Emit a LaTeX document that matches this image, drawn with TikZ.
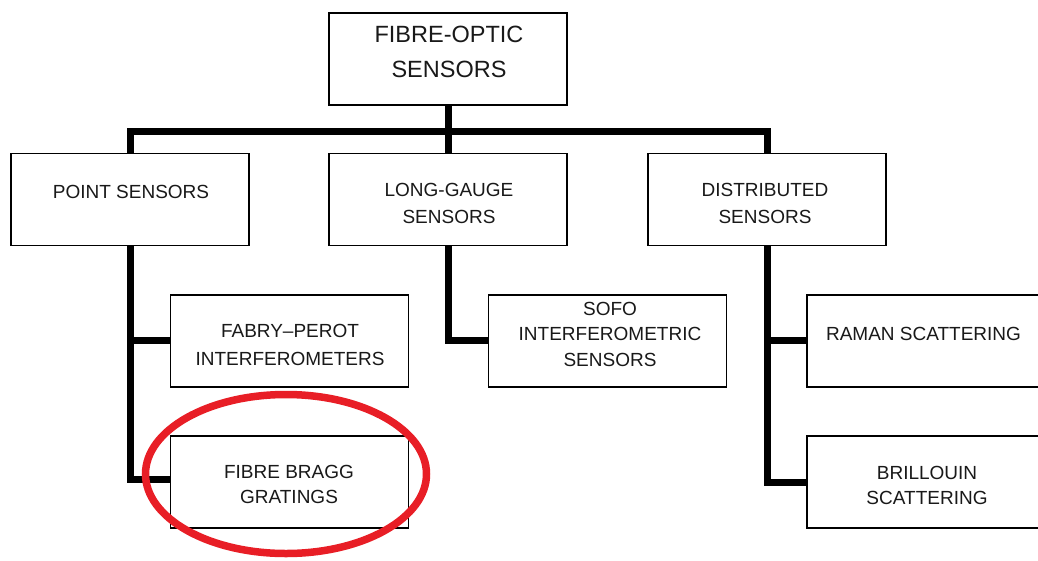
\documentclass[tikz,border=0pt]{standalone}
\usepackage{fontspec}
\setmainfont{Liberation Sans}
\definecolor{mark}{RGB}{232,30,38}
\begin{document}
\begin{tikzpicture}[x=1pt,y=-1pt,
  box/.style={draw=black,line width=1.8pt,fill=white,minimum width=238pt,minimum height=92pt,inner sep=0pt},
  ghost/.style={box,draw=none,fill=none},
  lbl/.style={anchor=north,inner sep=0pt,align=center,text=black!90,font={\fontsize{19}{27}\selectfont}},
  conn/.style={draw=black,line width=7pt,line join=miter},
  ring/.style={draw=mark,line width=7.5pt}]
\useasboundingbox (0,0) rectangle (1038,560);
\clip (0,0) rectangle (1038,560);
% box centres
\coordinate (cTop) at (448,59);
\coordinate (cPoint) at (130,199.5);
\coordinate (cLong) at (448,199.5);
\coordinate (cDist) at (767,199.5);
\coordinate (cFabry) at (289.5,341);
\coordinate (cSofo) at (607.5,341);
\coordinate (cRaman) at (926,341);
\coordinate (cBragg) at (289.5,482);
\coordinate (cBrill) at (926,482);
% placeholders used for connector ends
\path node[ghost] (top) at (cTop) {}
      node[ghost] (point) at (cPoint) {}
      node[ghost] (long) at (cLong) {}
      node[ghost] (dist) at (cDist) {}
      node[ghost] (fabry) at (cFabry) {}
      node[ghost] (sofo) at (cSofo) {}
      node[ghost] (raman) at (cRaman) {}
      node[ghost] (bragg) at (cBragg) {}
      node[ghost] (brill) at (cBrill) {};
\coordinate (bus) at (448,131);
\coordinate (rowA) at (0,340);
\coordinate (rowB) at (0,479);
% connectors
\draw[conn] (point.north) -- (point.north |- bus) -- (dist.north |- bus) -- (dist.north);
\draw[conn] (top.south) -- (long.north);
\draw[conn] (point.south) -- (point.south |- rowB) -- (bragg.west |- rowB);
\draw[conn] (point.south |- rowA) -- (fabry.west |- rowA);
\draw[conn] (long.south) -- (long.south |- rowA) -- (sofo.west |- rowA);
\draw[conn] (dist.south) -- (dist.south |- brill.west) -- (brill.west);
\draw[conn] (dist.south |- rowA) -- (raman.west |- rowA);
% visible boxes
\node[box] (topB) at (cTop) {};
\node[box] (pointB) at (cPoint) {};
\node[box] (longB) at (cLong) {};
\node[box] (distB) at (cDist) {};
\node[box] (fabryB) at (cFabry) {};
\node[box] (sofoB) at (cSofo) {};
\node[box] (ramanB) at (cRaman) {};
\node[box] (braggB) at (cBragg) {};
\node[box] (brillB) at (cBrill) {};
% labels
\node[lbl,font={\fontsize{23.5}{35}\selectfont}] (topT) at (449,26) {FIBRE-OPTIC\\SENSORS};
\node[lbl] (pointT) at (131,185) {POINT SENSORS};
\node[lbl] (longT) at (449,183) {LONG-GAUGE\\SENSORS};
\node[lbl] (distT) at (765,183) {DISTRIBUTED\\SENSORS};
\node[lbl,font={\fontsize{19}{28.5}\selectfont}] (fabryT) at (290,324) {FABRY--PEROT\\INTERFEROMETERS};
\node[lbl,font={\fontsize{19}{25.5}\selectfont}] (sofoT) at (610,302) {SOFO\\INTERFEROMETRIC\\SENSORS};
\node[lbl] (ramanT) at (923.5,327) {RAMAN SCATTERING};
\node[lbl,font={\fontsize{19}{25.5}\selectfont}] (braggT) at (289,465) {FIBRE BRAGG\\GRATINGS};
\node[lbl,font={\fontsize{19}{25.5}\selectfont}] (brillT) at (927,466) {BRILLOUIN\\SCATTERING};
% red highlight
\draw[ring] (286,474) ellipse [x radius=140.5, y radius=79.5];
\end{tikzpicture}
\end{document}
